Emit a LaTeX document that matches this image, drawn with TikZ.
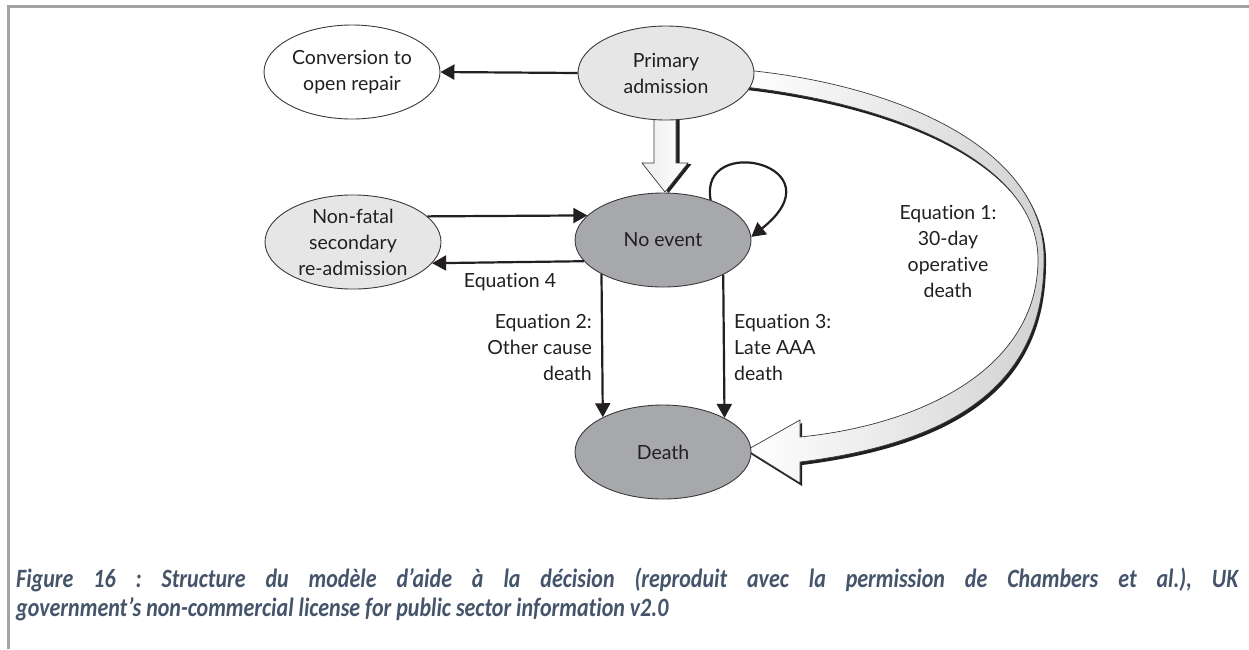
\documentclass[tikz,border=0pt]{standalone}
\usepackage{fontspec}
\setmainfont{Lato}[Ligatures=NoCommon]
\newfontfamily\capfont{Carlito}[Ligatures=NoCommon]
\usetikzlibrary{shapes.geometric,arrows.meta}
\definecolor{txt}{HTML}{231F20}
\definecolor{lightfill}{HTML}{E6E6E7}
\definecolor{darkfill}{HTML}{A7A8AB}
\definecolor{edgecol}{HTML}{3A3A3A}
\definecolor{bordergray}{HTML}{A3A3A3}
\definecolor{capcol}{HTML}{44546A}
\pgfdeclarelayer{bg}
\pgfsetlayers{bg,main}
\tikzset{
  state/.style={ellipse, draw=edgecol, line width=0.9pt, minimum width=176pt,
    minimum height=94pt, inner sep=0pt, align=center, text=txt,
    font=\fontsize{19.5}{26}\selectfont},
  conn/.style={line width=2.2pt, draw=txt, -{Triangle[length=14pt,width=15pt]}},
  lbl/.style={text=txt, inner sep=0pt, font=\fontsize{19.5}{26}\selectfont},
  fatshadow/.style={fill=txt},
  fatbody/.style={left color=lightfill!70, right color=white, draw=edgecol, line width=0.7pt},
}
\def\downarrowpath{(654,110) -- (676,110) -- (676,163) -- (688,163) -- (665,192) -- (642,163) -- (654,163) -- cycle}
\def\ribbonpath{(745,70) .. controls (900,85) and (1047,150) .. (1044,262)
  .. controls (1043,370) and (975,440) .. (800,462)
  -- (800,483) -- (747,450) -- (800,420) -- (800,437)
  .. controls (920,425) and (1036,370) .. (1038,262)
  .. controls (1040,165) and (900,105) .. (745,87) -- cycle}
\begin{document}
\begin{tikzpicture}[x=1pt,y=-1pt]
\useasboundingbox (0,0) rectangle (1249,649);

% states
\node[state, fill=white] (conv) at (352,72) {Conversion to\\open repair};
\node[state, fill=lightfill] (prim) at (666,73) {Primary\\admission};
\node[state, fill=lightfill] (nonfatal) at (353,242) {Non-fatal\\secondary\\re-admission};
\node[state, fill=darkfill] (noev) at (663,240) {No event};
\node[state, fill=darkfill] (death) at (663,452) {Death};

% background, border and fat arrows (behind the states)
\begin{pgfonlayer}{bg}
  \fill[white] (0,0) rectangle (1249,649);
  \draw[line width=3pt, bordergray] (8.5,649) -- (8.5,6) -- (1249,6);
  \fill[fatshadow, shift={(3.5,1)}] \downarrowpath;
  \path[fatbody] \downarrowpath;
  \fill[fatshadow, shift={(2,3)}] \ribbonpath;
  \path[left color=white, right color=lightfill!80!gray, draw=edgecol, line width=0.7pt] \ribbonpath;
\end{pgfonlayer}

% connectors
\draw[conn] (prim.west) -- (conv.east);
\draw[conn] (nonfatal.19.6) -- (noev.162.4);
\draw[conn] (noev.195.8) -- (nonfatal.345.9);
\draw[conn] (noev.209.8) -- (death.150.2);
\draw[conn] (noev.330.2) -- (death.29.8);
\draw[conn] (noev.40) .. controls (698,132) and (842,165) .. (noev.2);

% labels
\node[lbl] (eq4) at (510,282) {Equation 4};
\node[lbl, anchor=east, align=right] (eq2) at (592,347) {Equation 2:\\Other cause\\death};
\node[lbl, anchor=west, align=left] (eq3) at (734,347) {Equation 3:\\Late AAA\\death};
\node[lbl, align=center] (eq1) at (948,251) {Equation 1:\\30-day\\operative\\death};

% caption
\node[anchor=north west, transform shape, yscale=1.2, text width=1222pt, align=justify, inner sep=0pt, text=capcol,
  font=\capfont\bfseries\itshape\fontsize{22}{23.5}\selectfont\frenchspacing] (cap) at (16,568)
  {Figure 16 : Structure du modèle d’aide à la décision (reproduit avec la permission de Chambers et al.), UK\linebreak government’s non-commercial license for public sector information v2.0};
\end{tikzpicture}
\end{document}
